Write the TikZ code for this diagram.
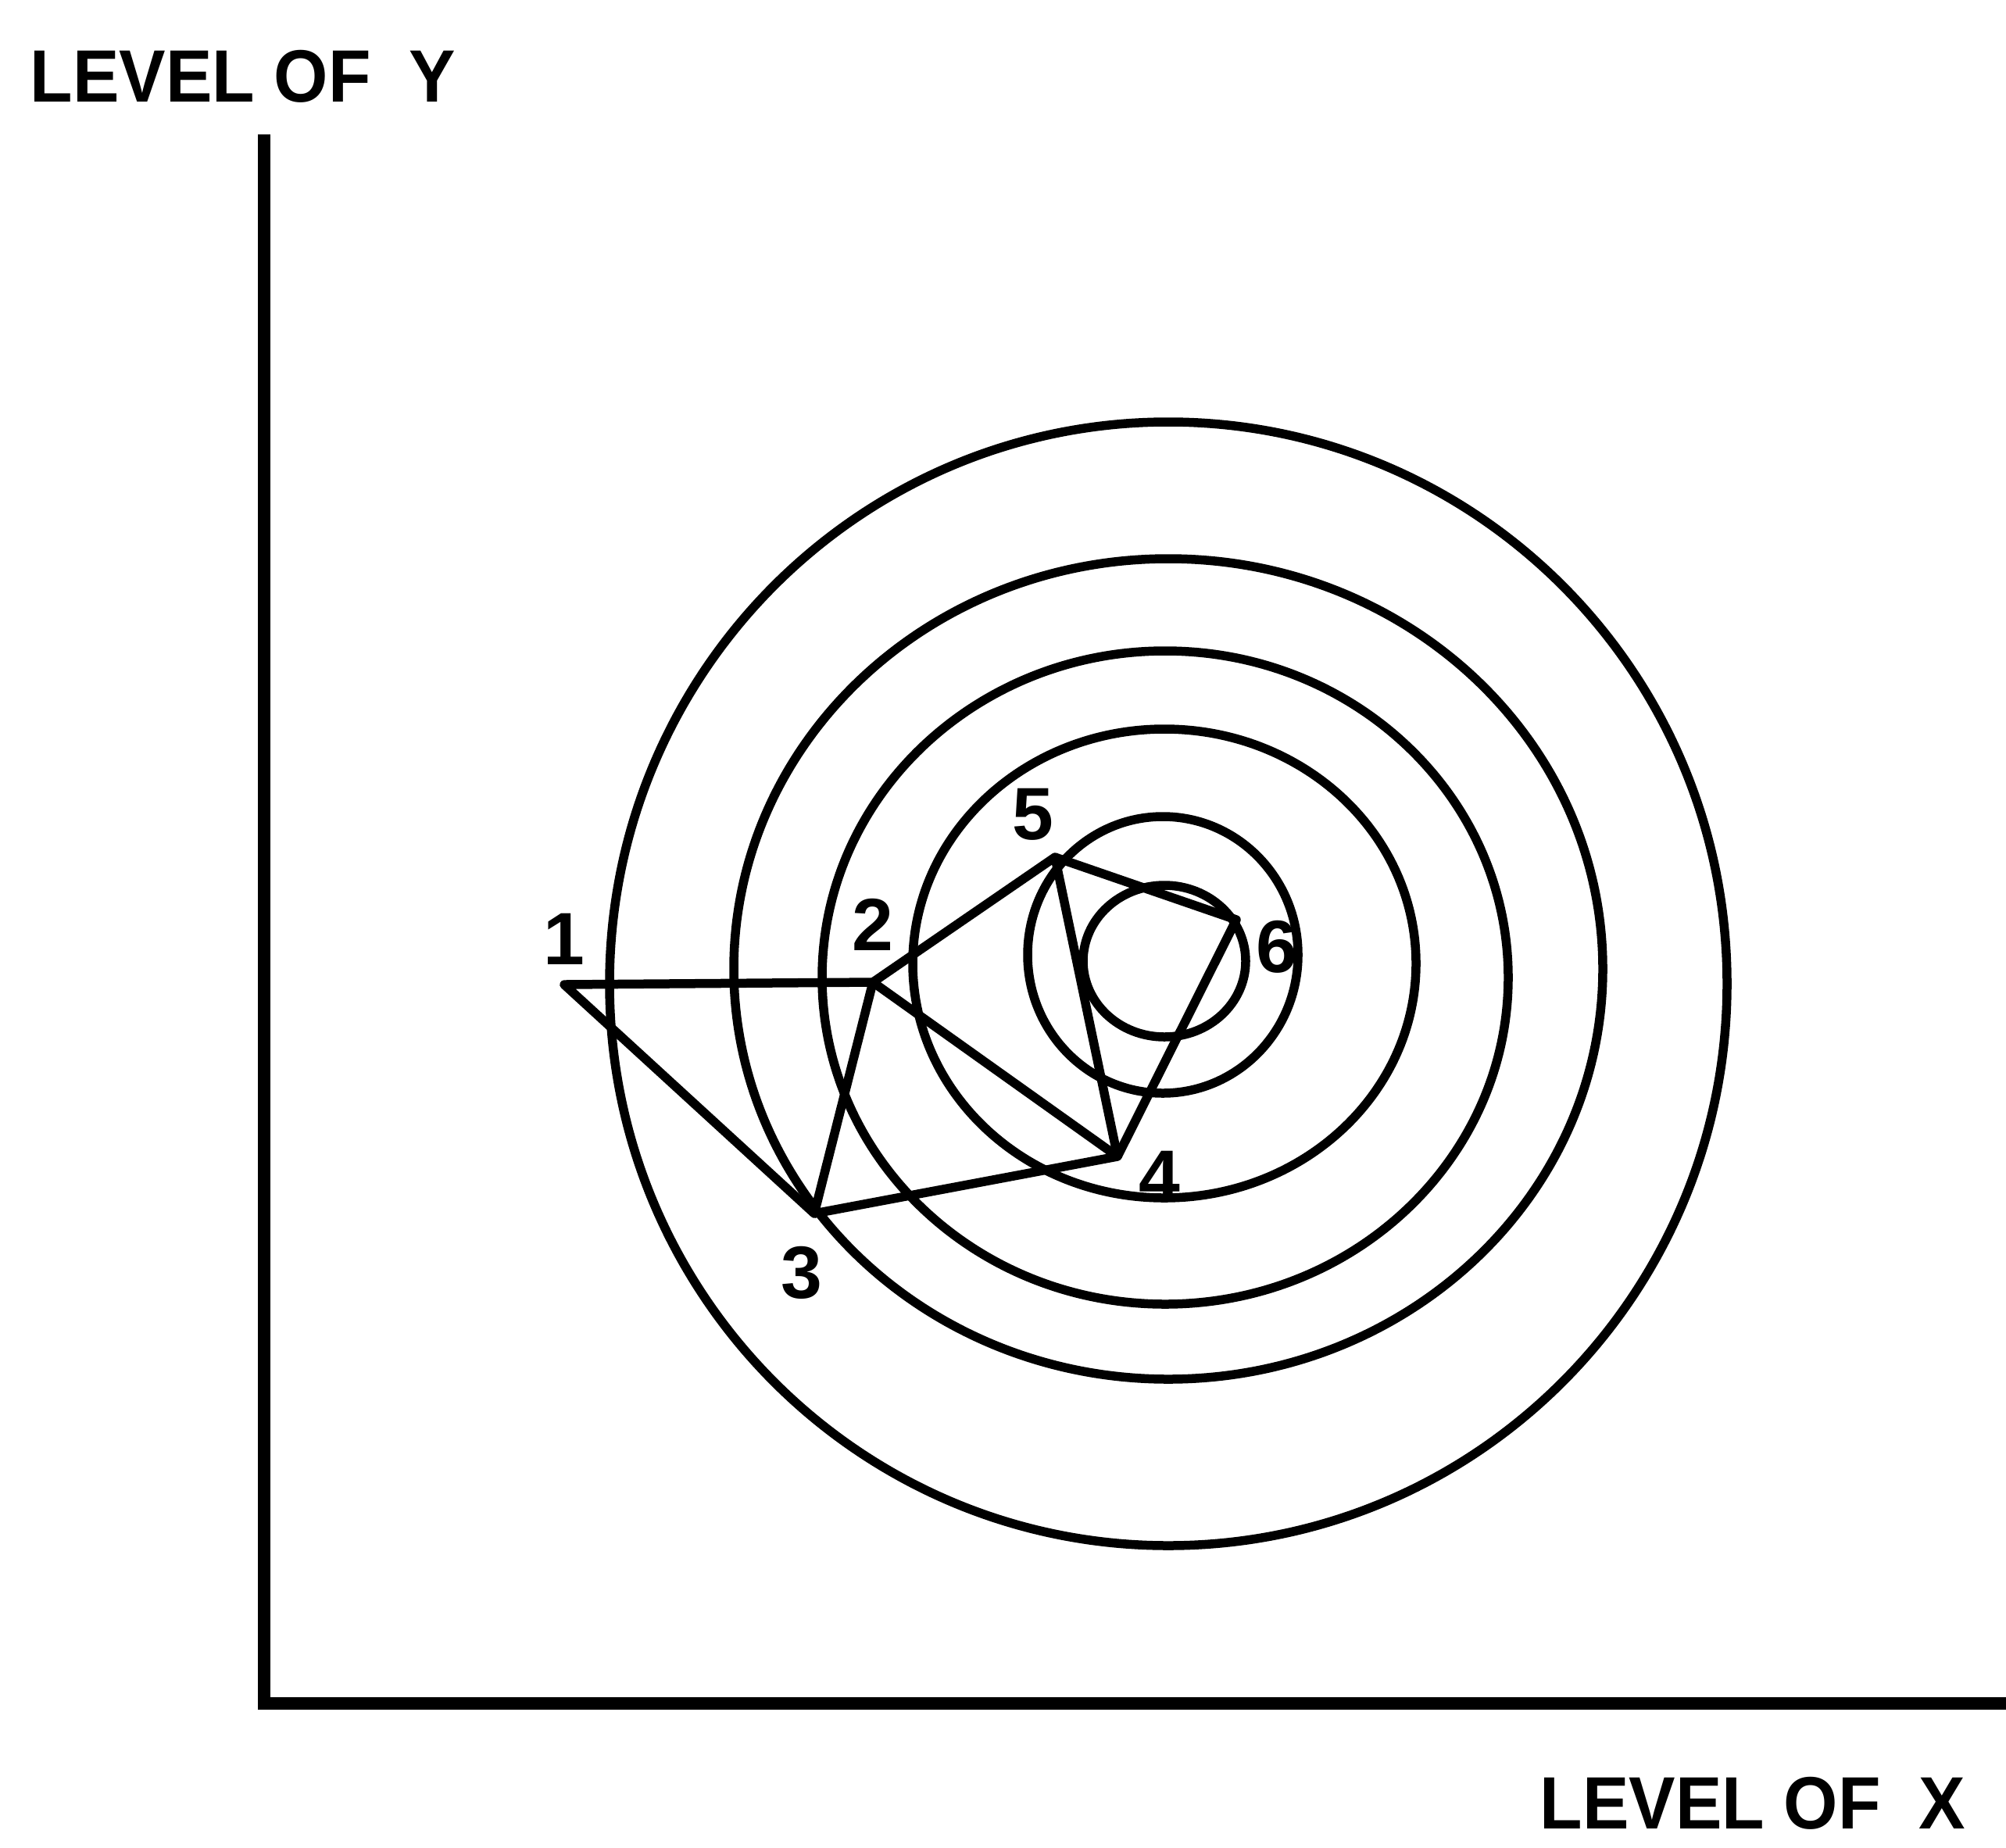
\documentclass[tikz,border=0pt]{standalone}
\usepackage{fontspec}
\setmainfont{Liberation Sans}
\usepackage{tikz}
\usetikzlibrary{positioning}
\tikzset{axisline/.style={line width=0.16cm},
  contour/.style={line width=0.115cm},
  simplex/.style={line width=0.115cm, line join=round},
  ptlabel/.style={font=\bfseries\fontsize{27}{30}\selectfont, inner sep=0pt},
  axislabel/.style={font=\bfseries\fontsize{27}{30}\selectfont, inner sep=0pt, anchor=base west}}

\begin{document}
\begin{tikzpicture}
\useasboundingbox (0,0) rectangle (25.67,-23.64);
% axes
\coordinate (origin) at (3.38,-21.80);
\coordinate (ytop) at (3.38,-1.72);
\coordinate (xend) at (25.70,-21.80);
\draw[axisline] (ytop) -- (origin) -- (xend);
\node[axislabel] (ylab) at (0.38,-1.30) {\scalebox{0.94}[1]{LEVEL OF\hspace{0.55em}Y}};
\node[axislabel] (xlab) at (19.70,-23.40) {\scalebox{0.94}[1]{LEVEL OF\hspace{0.55em}X}};
% contours
\draw[contour] (14.95,-12.59) ellipse [x radius=7.15, y radius=7.19];
\draw[contour] (14.95,-12.40) ellipse [x radius=5.56, y radius=5.25];
\draw[contour] (14.91,-12.51) ellipse [x radius=4.39, y radius=4.18];
\draw[contour] (14.90,-12.33) ellipse [x radius=3.22, y radius=3.00];
\draw[contour] (14.88,-12.22) ellipse [x radius=1.73, y radius=1.77];
\draw[contour] (14.90,-12.30) ellipse [x radius=1.04, y radius=0.97];
% simplex vertices
\coordinate (p1) at (7.22,-12.60);
\coordinate (p2) at (11.17,-12.57);
\coordinate (p3) at (10.42,-15.53);
\coordinate (p4) at (14.30,-14.80);
\coordinate (p5) at (13.50,-10.97);
\coordinate (p6) at (15.82,-11.77);
\draw[simplex] (p1) -- (p2) -- (p3) -- cycle;
\draw[simplex] (p2) -- (p4) -- (p3);
\draw[simplex] (p2) -- (p5) -- (p4);
\draw[simplex] (p5) -- (p6) -- (p4);
% labels
\node[ptlabel, above=0.25cm of p1] (l1) {1};
\node[ptlabel, above=0.40cm of p2] (l2) {2};
\node[ptlabel, below=0.42cm of p3, xshift=-0.16cm] (l3) {3};
\node[ptlabel, right=0.27cm of p4, yshift=-0.26cm] (l4) {4};
\node[ptlabel, above=0.21cm of p5, xshift=-0.28cm] (l5) {5};
\node[ptlabel, right=0.25cm of p6, yshift=-0.35cm] (l6) {6};
\end{tikzpicture}
\end{document}
